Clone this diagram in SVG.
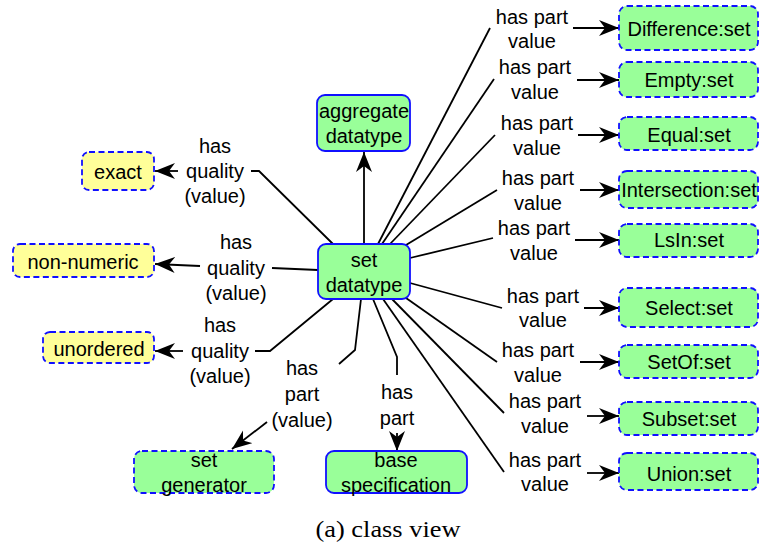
<svg xmlns="http://www.w3.org/2000/svg" width="759" height="548" viewBox="0 0 759 548">
<style>
.t{font-family:"Liberation Sans",Arial,sans-serif;font-size:20px;fill:#000;text-anchor:middle}
.c{font-family:"Liberation Serif","Times New Roman",serif;font-size:24px;fill:#000;text-anchor:middle}
.g{fill:#99ff99;stroke:#1010ff;stroke-width:1.8}
.y{fill:#ffff99;stroke:#1010ff;stroke-width:1.8}
.d{stroke-dasharray:6 3.5}
.l{fill:none;stroke:#000;stroke-width:1.8}
.a{fill:none;stroke:#000;stroke-width:1.8;marker-end:url(#ah)}
</style>
<defs>
<marker id="ah" markerUnits="userSpaceOnUse" markerWidth="22" markerHeight="18" refX="20" refY="8" orient="auto">
<path d="M0,0 L20,8 L0,16 L6,8 z" fill="#000"/>
</marker>
</defs>
<g id="connectors">
<polyline class="a" points="364,244 364,152"/>
<polyline class="l" points="333,244 259,171 251,171"/>
<polyline class="a" points="178,171 155,171"/>
<polyline class="l" points="318,270 272,268"/>
<polyline class="a" points="200,266 155,264"/>
<polyline class="l" points="333,299 270,351 255,351"/>
<polyline class="a" points="183,351 155,351"/>
<polyline class="l" points="361,299 355,350 339,364"/>
<polyline class="a" points="267,422 232,449"/>
<polyline class="l" points="373,299 397,357 397,375"/>
<polyline class="a" points="397,433 397,451"/>
<polyline class="l" points="378,244 490,28"/>
<polyline class="a" points="573,28 619,28"/>
<polyline class="l" points="382,244 494,79"/>
<polyline class="a" points="577,80 619,80"/>
<polyline class="l" points="390,244 495,135"/>
<polyline class="a" points="578,135 619,135"/>
<polyline class="l" points="406,245 497,190"/>
<polyline class="a" points="580,190 619,190"/>
<polyline class="l" points="410,258 493,238"/>
<polyline class="a" points="575,240 619,240"/>
<polyline class="l" points="410,283 502,308"/>
<polyline class="a" points="584,308 619,308"/>
<polyline class="l" points="406,298 497,362"/>
<polyline class="a" points="580,362 619,362"/>
<polyline class="l" points="392,299 504,413"/>
<polyline class="a" points="587,416 619,416"/>
<polyline class="l" points="383,299 504,472"/>
<polyline class="a" points="587,473 619,473"/>
</g>
<g id="labels">
<text class="t" x="215" y="153">has</text><text class="t" x="215" y="178">quality</text><text class="t" x="215" y="203">(value)</text>
<text class="t" x="236" y="249">has</text><text class="t" x="236" y="275">quality</text><text class="t" x="236" y="300">(value)</text>
<text class="t" x="220" y="332">has</text><text class="t" x="220" y="358">quality</text><text class="t" x="220" y="383">(value)</text>
<text class="t" x="302" y="375">has</text><text class="t" x="302" y="401">part</text><text class="t" x="302" y="427">(value)</text>
<text class="t" x="397" y="399">has</text><text class="t" x="397" y="425">part</text>
<text class="t" x="532" y="24">has part</text><text class="t" x="532" y="48">value</text>
<text class="t" x="535" y="74">has part</text><text class="t" x="535" y="99">value</text>
<text class="t" x="537" y="130">has part</text><text class="t" x="537" y="155">value</text>
<text class="t" x="538" y="185">has part</text><text class="t" x="538" y="210">value</text>
<text class="t" x="534" y="235">has part</text><text class="t" x="534" y="260">value</text>
<text class="t" x="543" y="303">has part</text><text class="t" x="543" y="327">value</text>
<text class="t" x="538" y="357">has part</text><text class="t" x="538" y="382">value</text>
<text class="t" x="545" y="408">has part</text><text class="t" x="545" y="433">value</text>
<text class="t" x="545" y="467">has part</text><text class="t" x="545" y="491">value</text>
</g>
<g id="aggregate-datatype"><rect class="g" x="317" y="95" width="93" height="56" rx="8"/><text class="t" x="364" y="118">aggregate</text><text class="t" x="364" y="143">datatype</text></g>
<g id="set-datatype"><rect class="g" x="318" y="244" width="92" height="55" rx="8"/><text class="t" x="364" y="267">set</text><text class="t" x="364" y="292">datatype</text></g>
<g id="exact"><rect class="y d" x="82" y="152" width="72" height="38" rx="7"/><text class="t" x="118" y="179">exact</text></g>
<g id="non-numeric"><rect class="y d" x="13" y="244" width="141" height="33" rx="7"/><text class="t" x="83" y="269">non-numeric</text></g>
<g id="unordered"><rect class="y d" x="43" y="332" width="111" height="31" rx="7"/><text class="t" x="99" y="356">unordered</text></g>
<g id="set-generator"><rect class="g d" x="134" y="451" width="140" height="42" rx="8"/><text class="t" x="204" y="467">set</text><text class="t" x="204" y="492">generator</text></g>
<g id="base-specification"><rect class="g" x="326" y="451" width="141" height="42" rx="8"/><text class="t" x="396" y="467">base</text><text class="t" x="396" y="492">specification</text></g>
<g id="difference"><rect class="g d" x="619" y="6" width="139" height="44" rx="8"/><text class="t" x="689" y="36">Difference:set</text></g>
<g id="empty"><rect class="g d" x="619" y="62" width="139" height="35" rx="8"/><text class="t" x="689" y="87">Empty:set</text></g>
<g id="equal"><rect class="g d" x="619" y="117" width="139" height="33" rx="8"/><text class="t" x="689" y="142">Equal:set</text></g>
<g id="intersection"><rect class="g d" x="619" y="171" width="139" height="37" rx="8"/><text class="t" x="689" y="197">Intersection:set</text></g>
<g id="lsin"><rect class="g d" x="619" y="224" width="139" height="33" rx="8"/><text class="t" x="689" y="247">LsIn:set</text></g>
<g id="select"><rect class="g d" x="619" y="288" width="139" height="39" rx="8"/><text class="t" x="689" y="315">Select:set</text></g>
<g id="setof"><rect class="g d" x="619" y="345" width="139" height="33" rx="8"/><text class="t" x="689" y="369">SetOf:set</text></g>
<g id="subset"><rect class="g d" x="619" y="402" width="139" height="33" rx="8"/><text class="t" x="689" y="426">Subset:set</text></g>
<g id="union"><rect class="g d" x="619" y="453" width="139" height="37" rx="8"/><text class="t" x="689" y="481">Union:set</text></g>
<text class="c" x="388" y="537" textLength="145" lengthAdjust="spacingAndGlyphs">(a) class view</text>
</svg>
